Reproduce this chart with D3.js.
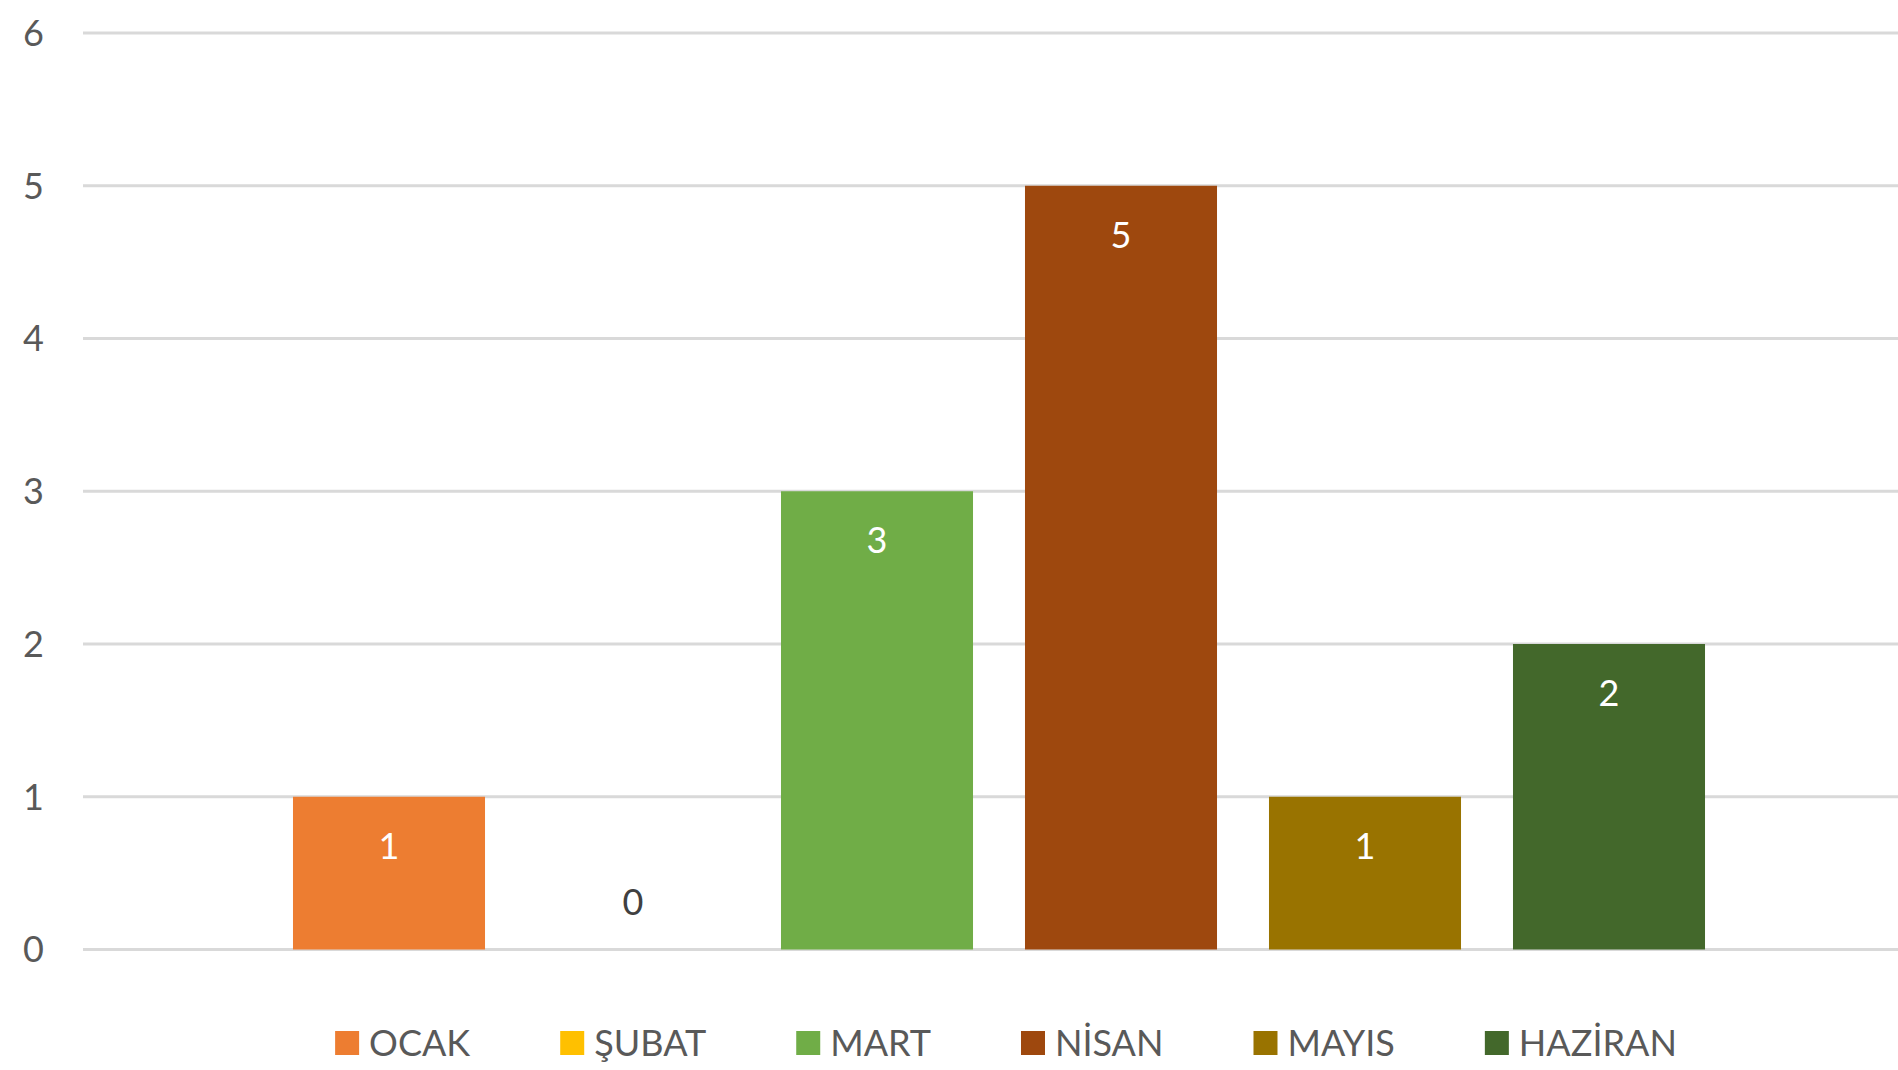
<!DOCTYPE html>
<html>
<head>
<meta charset="utf-8">
<script src="https://cdn.jsdelivr.net/npm/d3@7.9.0/dist/d3.min.js"></script>
<style>
  html, body { margin: 0; padding: 0; background: #fff; }
  svg { display: block; font-family: Lato, 'Open Sans', sans-serif; }
</style>
</head>
<body>
<svg width="1898" height="1070"></svg>
<script>
// data
const months = ['OCAK', 'ŞUBAT', 'MART', 'NİSAN', 'MAYIS', 'HAZİRAN'];
const counts = [1, 0, 3, 5, 1, 2];
const colors = ['#ED7D31', '#FFC000', '#70AD47', '#9E480E', '#997300', '#43682B'];
const yTicks = [0, 1, 2, 3, 4, 5, 6];

const svg = d3.select('svg');

const y = d3.scaleLinear().domain([0, 6]).range([949.5, 33]);
const x = d3.scaleBand().domain(months).range([267, 1731])
  .paddingInner(0.213).paddingOuter(0.1065);
const color = d3.scaleOrdinal().domain(months).range(colors);

// gridlines
svg.append('g')
  .selectAll('line')
  .data(yTicks)
  .join('line')
  .attr('x1', 83).attr('x2', 1898)
  .attr('y1', d => y(d)).attr('y2', d => y(d))
  .attr('stroke', '#d9d9d9')
  .attr('stroke-width', 3);

// y labels
svg.append('g')
  .selectAll('text')
  .data(yTicks)
  .join('text')
  .attr('x', 44)
  .attr('y', d => y(d))
  .attr('dy', '0.36em')
  .attr('text-anchor', 'end')
  .attr('fill', '#595959')
  .style('font-size', '36px')
  .text(d => d);

// bars
svg.append('g')
  .selectAll('rect')
  .data(months)
  .join('rect')
  .attr('x', d => x(d))
  .attr('width', x.bandwidth())
  .attr('y', (d, i) => y(counts[i]))
  .attr('height', (d, i) => y(0) - y(counts[i]))
  .attr('fill', d => color(d));

// data labels
svg.append('g')
  .selectAll('text')
  .data(months)
  .join('text')
  .attr('x', d => x(d) + x.bandwidth() / 2)
  .attr('y', (d, i) => counts[i] > 0 ? y(counts[i]) + 49 : y(0) - 47)
  .attr('dy', '0.36em')
  .attr('text-anchor', 'middle')
  .attr('fill', (d, i) => counts[i] > 0 ? '#fff' : '#404040')
  .style('font-size', '36px')
  .text((d, i) => counts[i]);

// legend
const legend = svg.append('g');
const items = legend.selectAll('g')
  .data(months)
  .join('g');
items.append('rect')
  .attr('width', 24).attr('height', 24)
  .attr('y', 1031)
  .attr('fill', d => color(d));
items.append('text')
  .attr('x', 34)
  .attr('y', 1056)
  .attr('fill', '#595959')
  .style('font-size', '36px')
  .text(d => d);

let offset = 0;
const widths = [];
items.each(function () {
  const w = 34 + d3.select(this).select('text').node().getComputedTextLength();
  widths.push(w);
});
const gapBetween = 90;
const total = d3.sum(widths) + gapBetween * (widths.length - 1);
let start = 1006 - total / 2;
items.attr('transform', (d, i) => {
  const tx = start + offset;
  offset += widths[i] + gapBetween;
  return `translate(${tx},0)`;
});
</script>
</body>
</html>
